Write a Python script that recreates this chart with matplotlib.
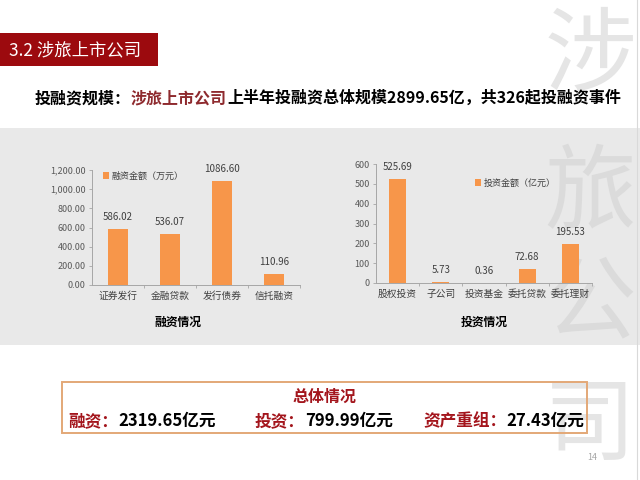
import matplotlib
matplotlib.use('Agg')
import matplotlib.pyplot as plt
from matplotlib.patches import Rectangle
from matplotlib.lines import Line2D

plt.rcParams['font.family'] = ['Noto Sans CJK SC', 'DejaVu Sans']

# data
fin_cats = ['证券发行', '金融贷款', '发行债券', '信托融资']
fin_vals = [586.02, 536.07, 1086.60, 110.96]
fin_ticks = [0, 200, 400, 600, 800, 1000, 1200]
inv_cats = ['股权投资', '子公司', '投资基金', '委托贷款', '委托理财']
inv_vals = [525.69, 5.73, 0.36, 72.68, 195.53]
inv_ticks = [0, 100, 200, 300, 400, 500, 600]
summary = [('融资：', '2319.65亿元'), ('投资：', '799.99亿元'), ('资产重组：', '27.43亿元')]

W, H = 640, 480
RED = '#9c0a0e'
DARKRED = '#a3151c'
ORANGE = '#f7964a'
GRAY_TXT = '#595959'


def fx(x):
    return x / W


def fy(y):
    return 1 - y / H


fig = plt.figure(figsize=(6.4, 4.8), dpi=100, facecolor='white')

# background panel and header box
fig.patches.append(Rectangle((0, fy(345)), 1, fy(128) - fy(345), transform=fig.transFigure,
                             facecolor='#e9e9e9', edgecolor='none', zorder=-2))
fig.patches.append(Rectangle((0, fy(66)), fx(158), fy(33) - fy(66), transform=fig.transFigure,
                             facecolor=RED, edgecolor='none', zorder=-1))
fig.lines.append(Line2D([fx(637), fx(637)], [0, 1], transform=fig.transFigure,
                        color='#d9d9d9', lw=0.8, zorder=-1))

# watermark
for ch, yc in zip('涉旅公司', [58, 195, 305, 427]):
    fig.text(fx(590), fy(yc), ch, fontsize=66, color='#d0d0d0', alpha=0.55,
             ha='center', va='center', zorder=-1)

fig.text(fx(9), fy(50), '3.2 涉旅上市公司', color='white', fontsize=12.5,
         ha='left', va='center')

# subtitle with mixed colours
renderer = fig.canvas.get_renderer()
x = fx(35)
for part, col in [('投融资规模：', 'black'), ('涉旅上市公司', '#8e2a2e'),
                  ('上半年投融资总体规模2899.65亿，共326起投融资事件', 'black')]:
    t = fig.text(x, fy(98), part, color=col, fontsize=11.5, fontweight='bold',
                 ha='left', va='center')
    bb = t.get_window_extent(renderer)
    x = fig.transFigure.inverted().transform((bb.x1, bb.y0))[0]


def bar_chart(rect, cats, vals, ticks, fmt, legend_label, legend_xy, xlabel, xlabel_xy):
    ax = fig.add_axes(rect, zorder=1)
    ax.set_facecolor('none')
    pos = range(len(cats))
    bars = ax.bar(pos, vals, width=0.4, color=ORANGE, label=legend_label, zorder=2)
    ax.set_xlim(-0.5, len(cats) - 0.5)
    ax.set_ylim(ticks[0], ticks[-1])
    ax.set_yticks(ticks)
    ax.set_yticklabels([fmt(t) for t in ticks])
    ax.set_xticks(list(pos))
    ax.set_xticklabels(cats)
    ax.set_xticks([i + 0.5 for i in range(len(cats))], minor=True)
    ax.tick_params(axis='x', which='major', length=0, pad=4, labelsize=7, labelcolor='#404040')
    ax.tick_params(axis='x', which='minor', length=2.5, color='#a6a6a6', width=0.6)
    ax.tick_params(axis='y', length=2.5, color='#a6a6a6', width=0.6, labelsize=6.5,
                   labelcolor=GRAY_TXT, pad=2)
    for s in ['top', 'right']:
        ax.spines[s].set_visible(False)
    for s in ['left', 'bottom']:
        ax.spines[s].set_color('#a6a6a6')
        ax.spines[s].set_linewidth(0.7)
    for b, v in zip(bars, vals):
        ax.annotate('%.2f' % v, (b.get_x() + b.get_width() / 2, v), xytext=(0, 5),
                    textcoords='offset points', ha='center', va='bottom', fontsize=7,
                    color='#404040')
    ax.legend(loc='center left', bbox_to_anchor=legend_xy, bbox_transform=fig.transFigure,
              frameon=False, fontsize=6.5, handlelength=0.7, handleheight=0.7,
              handletextpad=0.3, borderpad=0, labelcolor='#404040')
    fig.text(xlabel_xy[0], xlabel_xy[1], xlabel, fontsize=8.5, fontweight='bold',
             ha='center', va='center')
    return ax


bar_chart([fx(92), fy(285), fx(300) - fx(92), fy(170) - fy(285)], fin_cats, fin_vals,
          fin_ticks, lambda t: '{:,.2f}'.format(t), '融资金额（万元）', (fx(98), fy(176)),
          '融资情况', (fx(178), fy(322)))
bar_chart([fx(376), fy(283), fx(592) - fx(376), fy(164) - fy(283)], inv_cats, inv_vals,
          inv_ticks, lambda t: '%d' % t, '投资金额（亿元）', (fx(470), fy(183)),
          '投资情况', (fx(484), fy(322)))

# summary box
fig.patches.append(Rectangle((fx(62), fy(433)), fx(587) - fx(62), fy(382) - fy(433),
                             transform=fig.transFigure, facecolor='none',
                             edgecolor='#e3a877', lw=1.4, zorder=2))
fig.text(fx(325), fy(397), '总体情况', color=DARKRED, fontsize=11.5, fontweight='bold',
         ha='center', va='center', zorder=3)
for (lab, val), x0 in zip(summary, [68, 255, 423]):
    t = fig.text(fx(x0), fy(421), lab, color=DARKRED, fontsize=12, fontweight='bold',
                 ha='left', va='center', zorder=3)
    bb = t.get_window_extent(renderer)
    x1 = fig.transFigure.inverted().transform((bb.x1, bb.y0))[0]
    fig.text(x1, fy(421), val, color='black', fontsize=12, fontweight='bold',
             ha='left', va='center', zorder=3)

fig.text(fx(592), fy(458), '14', color='#a6a6a6', fontsize=6.5, ha='center', va='center')

fig.savefig('out.png', dpi=100)
